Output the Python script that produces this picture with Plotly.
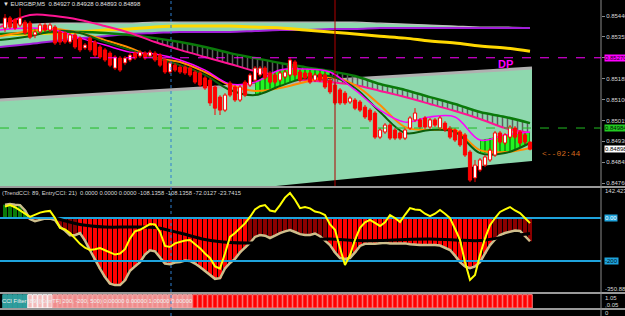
import plotly.graph_objects as go

# ---------------- price data (EURGBP M5) ----------------
bars = list(range(106))
opens = [0.85391,0.85432,0.85424,0.85403,0.85415,0.85411,0.85363,0.85375,0.85403,0.85383,
         0.85395,0.85375,0.85371,0.85334,0.85363,0.85350,0.85310,0.85350,0.85334,0.85314,
         0.85302,0.85289,0.85228,0.85269,0.85249,0.85261,0.85289,0.85277,0.85289,0.85277,
         0.85289,0.85281,0.85261,0.85212,0.85240,0.85232,0.85232,0.85228,0.85212,0.85208,
         0.85188,0.85179,0.85151,0.85110,0.85057,0.85167,0.85151,0.85098,0.85171,0.85159,
         0.85179,0.85200,0.85228,0.85208,0.85200,0.85179,0.85192,0.85200,0.85253,0.85212,
         0.85208,0.85208,0.85179,0.85204,0.85200,0.85179,0.85159,0.85139,0.85126,0.85090,
         0.85098,0.85090,0.85069,0.85057,0.85045,0.84947,0.84968,0.84996,0.84976,0.84964,
         0.84943,0.84984,0.85017,0.85017,0.85025,0.84988,0.85017,0.84984,0.85004,0.84984,
         0.84976,0.84968,0.84956,0.84886,0.84781,0.84813,0.84833,0.84854,0.84874,0.84964,
         0.84923,0.84947,0.84984,0.84968,0.84956,0.84927]
highs = [0.85448,0.85440,0.85432,0.85472,0.85424,0.85420,0.85383,0.85411,0.85411,0.85411,
         0.85403,0.85383,0.85379,0.85371,0.85371,0.85358,0.85330,0.85358,0.85342,0.85322,
         0.85310,0.85297,0.85281,0.85277,0.85277,0.85289,0.85297,0.85302,0.85297,0.85302,
         0.85297,0.85289,0.85269,0.85257,0.85249,0.85240,0.85240,0.85236,0.85220,0.85216,
         0.85196,0.85188,0.85159,0.85118,0.85126,0.85175,0.85159,0.85159,0.85179,0.85208,
         0.85236,0.85236,0.85236,0.85216,0.85208,0.85216,0.85220,0.85273,0.85261,0.85220,
         0.85216,0.85216,0.85208,0.85212,0.85208,0.85188,0.85167,0.85147,0.85135,0.85114,
         0.85106,0.85098,0.85078,0.85065,0.85053,0.84984,0.85004,0.85004,0.84984,0.84972,
         0.84984,0.85033,0.85065,0.85025,0.85033,0.85025,0.85025,0.85033,0.85012,0.84992,
         0.84984,0.84976,0.84964,0.84894,0.84854,0.84862,0.84874,0.84903,0.84972,0.84972,
         0.84964,0.84996,0.84992,0.84976,0.84964,0.84928]
lows = [0.85375,0.85387,0.85383,0.85395,0.85363,0.85346,0.85350,0.85367,0.85375,0.85375,
        0.85322,0.85322,0.85326,0.85326,0.85306,0.85293,0.85302,0.85293,0.85273,0.85265,
        0.85253,0.85232,0.85220,0.85212,0.85240,0.85253,0.85261,0.85269,0.85261,0.85269,
        0.85253,0.85232,0.85204,0.85204,0.85212,0.85204,0.85200,0.85192,0.85163,0.85151,
        0.85139,0.85074,0.85037,0.85037,0.85049,0.85110,0.85090,0.85090,0.85110,0.85151,
        0.85171,0.85192,0.85179,0.85163,0.85163,0.85171,0.85184,0.85192,0.85192,0.85171,
        0.85179,0.85163,0.85171,0.85171,0.85143,0.85122,0.85078,0.85078,0.85078,0.85082,
        0.85057,0.85049,0.85021,0.85008,0.84939,0.84939,0.84960,0.84935,0.84935,0.84935,
        0.84935,0.84976,0.85008,0.84980,0.84980,0.84980,0.84988,0.84976,0.84968,0.84939,
        0.84927,0.84907,0.84866,0.84764,0.84764,0.84805,0.84825,0.84846,0.84866,0.84919,
        0.84915,0.84939,0.84939,0.84915,0.84919,0.84893]
closes = [0.85432,0.85395,0.85391,0.85432,0.85371,0.85354,0.85375,0.85403,0.85383,0.85403,
          0.85330,0.85334,0.85334,0.85363,0.85314,0.85302,0.85322,0.85302,0.85281,0.85273,
          0.85261,0.85240,0.85273,0.85220,0.85269,0.85281,0.85269,0.85293,0.85269,0.85293,
          0.85261,0.85240,0.85212,0.85249,0.85220,0.85212,0.85208,0.85200,0.85171,0.85159,
          0.85147,0.85086,0.85065,0.85057,0.85118,0.85118,0.85098,0.85151,0.85118,0.85200,
          0.85228,0.85228,0.85188,0.85171,0.85171,0.85208,0.85212,0.85261,0.85200,0.85179,
          0.85188,0.85171,0.85200,0.85179,0.85151,0.85131,0.85086,0.85086,0.85086,0.85106,
          0.85065,0.85057,0.85029,0.85017,0.84947,0.84976,0.84996,0.84943,0.84943,0.84943,
          0.84976,0.85025,0.85045,0.84988,0.84988,0.85017,0.84996,0.85025,0.84976,0.84947,
          0.84935,0.84915,0.84874,0.84772,0.84833,0.84854,0.84866,0.84894,0.84964,0.84927,
          0.84956,0.84988,0.84947,0.84923,0.84927,0.84898]

# indicator lines sampled every 5 bars
ma_x = [-1] + list(range(5, 106, 5))
orange_ma = [0.85358,0.85379,0.85387,0.85371,0.85342,0.85310,0.85269,0.85253,0.85212,0.85159,0.85135,
             0.85147,0.85171,0.85192,0.85159,0.85078,0.84988,0.84976,0.84976,0.84894,0.84886,0.84903]
green_ma = [0.85342,0.85358,0.85379,0.85371,0.85334,0.85302,0.85269,0.85240,0.85200,0.85139,0.85118,
            0.85155,0.85188,0.85196,0.85147,0.85049,0.84964,0.84976,0.84968,0.84882,0.84882,0.84923]
fast_ma = [0.85383,0.85391,0.85383,0.85350,0.85322,0.85293,0.85285,0.85261,0.85220,0.85163,0.85171,
           0.85220,0.85224,0.85212,0.85139,0.85057,0.85008,0.85029,0.85029,0.84935,0.84956,0.84968]
slow_pink = [0.85395,0.85444,0.85440,0.85424,0.85399,0.85371,0.85334,0.85302,0.85273,0.85245,0.85216,
             0.85196,0.85179,0.85171,0.85159,0.85135,0.85110,0.85082,0.85053,0.85021,0.84984,0.84964]
slow_green = [0.85367,0.85371,0.85375,0.85375,0.85371,0.85363,0.85350,0.85334,0.85314,0.85289,0.85269,
              0.85249,0.85232,0.85216,0.85196,0.85163,0.85139,0.85110,0.85082,0.85049,0.85029,0.85004]
yellow_ma = [0.85363,0.85367,0.85371,0.85375,0.85383,0.85387,0.85395,0.85399,0.85399,0.85399,0.85395,
             0.85391,0.85383,0.85375,0.85367,0.85358,0.85350,0.85338,0.85330,0.85318,0.85310,0.85297]
purple_ma = [0.85314,0.85326,0.85338,0.85350,0.85358,0.85367,0.85371,0.85375,0.85375,0.85375,0.85379,
             0.85383,0.85383,0.85387,0.85387,0.85391,0.85391,0.85391,0.85391,0.85391,0.85391,0.85391]
band_top = [0.85407,0.85407,0.85411,0.85411,0.85411,0.85411,0.85415,0.85415,0.85415,0.85415,0.85415,
            0.85415,0.85415,0.85415,0.85415,0.85411,0.85407,0.85403,0.85399,0.85395,0.85395,0.85391]
hatch_start = 6
bull_segments = [(1, 2), (10, 13), (19, 21)]

# regression channel
chan_x = [-1, 105.4]
chan_top = [0.85098, 0.85228]
chan_bot = [0.84638, 0.84850]

dp_level = 0.85270
ask_level = 0.84984
price_ticks = [0.85440, 0.85355, 0.85270, 0.85185, 0.85100, 0.85015, 0.84930, 0.84845, 0.84760]
vline_blue = 33.2
vline_red = 66

# ---------------- CCI window ----------------
trend_cci = [62,65,62,60,35,-5,-15,-8,-3,-2,
             -9,-42,-58,-80,-80,-70,-105,-150,-195,-235,
             -275,-305,-312,-312,-290,-245,-225,-205,-170,-150,
             -155,-181,-212,-215,-207,-205,-198,-200,-212,-228,
             -245,-265,-283,-280,-235,-209,-190,-160,-140,-116,
             -88,-79,-82,-93,-82,-70,-62,-56,-65,-75,
             -79,-79,-72,-85,-105,-126,-160,-186,-190,-186,
             -160,-130,-120,-118,-120,-116,-115,-118,-118,-116,
             -118,-122,-125,-126,-126,-125,-126,-128,-138,-149,
             -175,-205,-225,-233,-225,-205,-165,-126,-100,-79,
             -70,-65,-58,-60,-85,-108.1358]
trend_state = "ggggg" + "d" * 10 + "r" * 34 + "d" * 16 + "r" * 33 + "d" * 8
entry_cci = [53,60,50,37,20,5,15,25,30,33,
             0,-46,-53,-70,-95,-120,-138,-149,-145,-140,
             -150,-160,-170,-165,-145,-95,-62,-55,-40,-28,
             -30,-65,-130,-135,-118,-110,-105,-102,-120,-140,
             -165,-186,-225,-235,-165,-88,-70,-46,-25,5,
             40,55,60,35,30,60,95,116,85,46,
             51,45,30,25,14,-30,-55,-140,-219,-172,
             -102,-46,-20,-9,-25,-37,-20,14,0,-19,
             15,46,40,37,20,9,20,37,20,0,
             -50,-102,-205,-288,-265,-172,-95,-33,0,28,
             40,51,35,23,0,-23.7415]
signal_x = ma_x[2:]
signal_cci = [0,-30,-42,-42,-44,-70,-100,-114,-116,-110,-102,-98,-105,-105,-100,-98,-102,-105,-88,-72.0127]
cci_levels = [0, -200]
cci_max, cci_min = 142.4233, -350.887

# ---------------- CCI filter window ----------------
filter_vals = [1.0] * 106
filter_state = "ttttt" + "wwwww" + "p" * 28 + "r" * 68

# ---------------- styling ----------------
MINT = "#8ED8AE"
FONT = "Liberation Sans"
XR = [-1, 119.2]
PR = [0.84748, 0.855052]
CR = [-339.5, 134.9]
HALF = 0.32  # half candle body width in bar units

fig = go.Figure()

def line(x, y, color, width, yaxis="y", shape="linear", **kw):
    fig.add_trace(go.Scatter(x=x, y=y, mode="lines", yaxis=yaxis, hoverinfo="skip",
                             line=dict(color=color, width=width, shape=shape), **kw))

# channel
fig.add_trace(go.Scatter(x=chan_x + chan_x[::-1], y=chan_top + chan_bot[::-1], mode="lines",
                         fill="toself", fillcolor=MINT, line=dict(width=0), hoverinfo="skip"))
line(chan_x, chan_top, "#B0B0B0", 3)
# upper band
line(ma_x, band_top, "#BEBEBE", 1.2, shape="spline")
line(ma_x, purple_ma, "#A020D8", 2, shape="spline", fill="tonexty", fillcolor=MINT)
line(ma_x, yellow_ma, "#FFD800", 3, shape="spline")
# hatch between slow lines
line(ma_x[hatch_start:], slow_pink[hatch_start:], "rgba(0,0,0,0)", 0, shape="spline")
line(ma_x[hatch_start:], slow_green[hatch_start:], "rgba(0,0,0,0)", 0, shape="spline",
     fill="tonexty", fillcolor="rgba(0,0,0,0)",
     fillpattern=dict(shape="|", size=5, solidity=0.3, fgcolor="#5e5e5e", bgcolor="rgba(0,0,0,0)"))
line(ma_x, slow_green, "#0A7A0A", 2.5, shape="spline")
line(ma_x, slow_pink, "#FF1493", 2, shape="spline")
# bullish fill
for a, b in bull_segments:
    line(ma_x[a:b + 1], green_ma[a:b + 1], "rgba(0,0,0,0)", 0, shape="spline")
    line(ma_x[a:b + 1], fast_ma[a:b + 1], "rgba(0,0,0,0)", 0, shape="spline",
         fill="tonexty", fillcolor="rgba(0,0,0,0)",
         fillpattern=dict(shape="|", size=5, solidity=0.6, fgcolor="#22F522", bgcolor="#14A014"))
line(ma_x, orange_ma, "#FF8C00", 2, shape="spline")
line(ma_x, green_ma, "#0B5E0B", 2, shape="spline")
line(ma_x, fast_ma, "#FF00FF", 1.5, shape="spline")

# candles drawn as scatter shapes so they sit above the filled areas
wx, wy = [], []
for i, h, l in zip(bars, highs, lows):
    wx += [i, i, None]
    wy += [l, h, None]
line(wx, wy, "#FF0000", 1)
for bull, fillc in ((False, "#FF0000"), (True, "#FFFFFF")):
    bx, by = [], []
    for i, o, c in zip(bars, opens, closes):
        if (c > o) == bull:
            bx += [i - HALF, i + HALF, i + HALF, i - HALF, i - HALF, None]
            by += [o, o, c, c, o, None]
    line(bx, by, "#FF0000", 1, fill="toself", fillcolor=fillc)

# CCI window
state_col = {"g": "#0B7A0B", "d": "#8B0000", "r": "#FF0000"}
fig.add_trace(go.Bar(x=bars, y=trend_cci, yaxis="y2", width=0.8, hoverinfo="skip",
                     marker=dict(color=[state_col[s] for s in trend_state], line=dict(width=0))))
line(bars, trend_cci, "#CDBE8C", 2.5, yaxis="y2")
for lv in cci_levels:
    line(XR, [lv, lv], "#1EA3DC", 2, yaxis="y2")
line(signal_x, signal_cci, "#000000", 3, yaxis="y2", shape="spline")
line(bars, entry_cci, "#FFFF00", 2, yaxis="y2")

# filter window
f_fill = {"t": "#2F9C9C", "w": "#F3BBBB", "p": "#F08C8C", "r": "#FF0000"}
f_edge = {"t": "#2F9C9C", "w": "#FFFFFF", "p": "#F8B0B0", "r": "#FF8080"}
fig.add_trace(go.Bar(x=bars, y=filter_vals, yaxis="y3", width=0.9, hoverinfo="skip",
                     marker=dict(color=[f_fill[s] for s in filter_state],
                                 line=dict(color=[f_edge[s] for s in filter_state], width=1))))

def py(px):
    return 1 - px / 316.0

axis_common = dict(showgrid=False, zeroline=False, fixedrange=True, anchor="x", side="right")
fig.update_layout(
    width=625, height=316, margin=dict(l=0, r=24, t=0, b=0),
    paper_bgcolor="#000000", plot_bgcolor="#000000", showlegend=False, template="none",
    font=dict(family=FONT, color="#D8D8D8", size=6), bargap=0.2,
    xaxis=dict(range=XR, visible=False, fixedrange=True),
    yaxis=dict(domain=[py(186), 1], range=PR, tickvals=price_ticks,
               ticktext=[f"{v:.5f}" for v in price_ticks], ticks="outside", ticklen=3,
               tickcolor="#8A8A8A", tickfont=dict(size=6, color="#D8D8D8"), **axis_common),
    yaxis2=dict(domain=[py(291), py(189)], range=CR, showticklabels=False, **axis_common),
    yaxis3=dict(domain=[py(308), py(294)], range=[0, 1.05], showticklabels=False, **axis_common),
)

shapes = []
for ypx in (187, 293, 309):
    shapes.append(dict(type="line", xref="paper", yref="paper", x0=0, x1=1.05, y0=py(ypx), y1=py(ypx),
                       line=dict(color="#9A9A9A", width=2)))
shapes.append(dict(type="line", xref="paper", yref="paper", x0=1, x1=1, y0=0, y1=1,
                   line=dict(color="#8A8A8A", width=1)))
shapes.append(dict(type="line", xref="paper", yref="y", x0=0, x1=1, y0=dp_level, y1=dp_level,
                   line=dict(color="#FF00FF", width=1, dash="dash")))
shapes.append(dict(type="line", xref="paper", yref="y", x0=0, x1=1, y0=ask_level, y1=ask_level,
                   line=dict(color="#22BB22", width=1, dash="dash")))
shapes.append(dict(type="line", xref="x", yref="paper", x0=vline_red, x1=vline_red, y0=py(186), y1=1,
                   line=dict(color="#B00000", width=1)))
shapes.append(dict(type="line", xref="x", yref="paper", x0=vline_blue, x1=vline_blue, y0=0, y1=1,
                   line=dict(color="#2F7FD0", width=1, dash="dot")))
fig.update_layout(shapes=shapes)

LX = 1 + 3 / 601.0
ann = []
def label(text, y, yref, bg=None, color="#D8D8D8", size=6):
    d = dict(text=text, xref="paper", x=LX, xanchor="left", y=y, yref=yref, yanchor="middle",
             showarrow=False, font=dict(size=size, color=color, family=FONT), borderpad=0)
    if bg:
        d["bgcolor"] = bg
    ann.append(d)

label(f"{dp_level:.5f}", dp_level, "y", bg="#FF00FF", color="#200020")
label(f"{ask_level:.5f}", ask_level, "y", bg="#22CC22", color="#001000")
label(f"{closes[-1]:.5f}", closes[-1], "y", bg="#FFFFFF", color="#000000")
label(f"{cci_max:.4f}", py(191), "paper")
label("0.00", 0, "y2", bg="#1EA3DC", color="#FFFFFF")
label("-200", -200, "y2", bg="#1EA3DC", color="#001020")
label(f"{cci_min:.3f}", py(289), "paper")
label("1.05", py(298), "paper")
label(",0.05", py(304.5), "paper")
label("0", py(313), "paper")

ann.append(dict(text=f"\u25bc EURGBP,M5  {opens[-1]:.5f} {highs[-1]:.5f} {lows[-1]:.5f} {closes[-1]:.5f}",
                xref="paper", yref="paper", x=0.001, y=py(4), xanchor="left", yanchor="middle",
                showarrow=False, font=dict(size=6, color="#E0E0E0", family=FONT)))
ann.append(dict(text=f"(TrendCCI: 89, EntryCCI: 21)  0.0000 0.0000 0.0000 {trend_cci[-1]:.4f} "
                     f"{trend_cci[-1]:.4f} {signal_cci[-1]:.4f} {entry_cci[-1]:.4f}",
                xref="paper", yref="paper", x=0.0, y=py(192.5), xanchor="left", yanchor="middle",
                showarrow=False, font=dict(size=5.8, color="#D8D8D8", family=FONT)))
ann.append(dict(text="CCI Filter [89] [CurrTF] 200, -200, 500) 0.00000 0.00000 1.00000 0.00000",
                xref="paper", yref="paper", x=0.0, y=py(301), xanchor="left", yanchor="middle",
                showarrow=False, font=dict(size=5.8, color="#F0F0F0", family=FONT)))
ann.append(dict(text="<b>DP</b>", xref="x", yref="y", x=100, y=0.85245, xanchor="center",
                yanchor="middle", showarrow=False, font=dict(size=11, color="#FF00FF", family=FONT)))
ann.append(dict(text="<--02:44", xref="paper", yref="paper", x=540 / 601.0, y=py(154), xanchor="left",
                yanchor="middle", showarrow=False, font=dict(size=8, color="#D2691E", family="Liberation Mono")))
fig.update_layout(annotations=ann)

fig.write_html("out.html", include_plotlyjs=True, config={"displayModeBar": False})
